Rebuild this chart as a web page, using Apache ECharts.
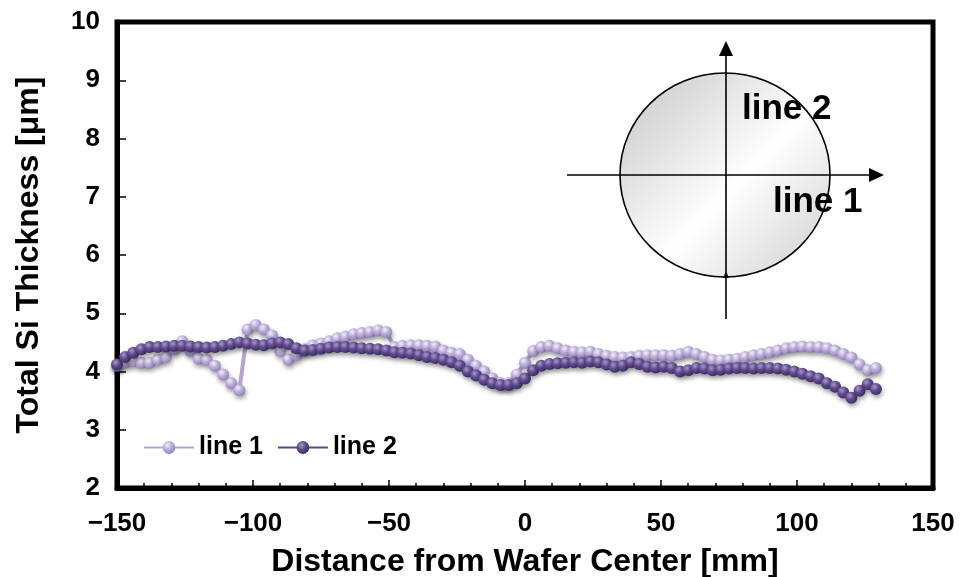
<!DOCTYPE html>
<html>
<head>
<meta charset="utf-8">
<script src="https://cdn.jsdelivr.net/npm/echarts@6/dist/echarts.min.js"></script>
<style>
  html, body { margin: 0; padding: 0; background: #fff; }
  #chart { width: 961px; height: 577px; }
</style>
</head>
<body>
<div id="chart"></div>
<script>
// Measurement positions along the wafer diameter [mm]
const distance = [
  -150, -147, -144, -141, -138, -135, -132, -129, -126, -123,
  -120, -117, -114, -111, -108, -105, -102, -99, -96, -93,
  -90, -87, -84, -81, -78, -75, -72, -69, -66, -63,
  -60, -57, -54, -51, -48, -45, -42, -39, -36, -33,
  -30, -27, -24, -21, -18, -15, -12, -9, -6, -3,
  0, 3, 6, 9, 12, 15, 18, 21, 24, 27,
  30, 33, 36, 39, 42, 45, 48, 51, 54, 57,
  60, 63, 66, 69, 72, 75, 78, 81, 84, 87,
  90, 93, 96, 99, 102, 105, 108, 111, 114, 117,
  120, 123, 126, 129
];

// Total Si thickness [um] along line 1 (horizontal scan)
const line1 = [
  4.10, 4.15, 4.18, 4.15, 4.15, 4.20, 4.25, 4.38, 4.52, 4.35,
  4.22, 4.20, 4.10, 3.95, 3.80, 3.68, 4.72, 4.80, 4.72, 4.62,
  4.35, 4.20, 4.28, 4.38, 4.45, 4.48, 4.52, 4.57, 4.60, 4.64,
  4.66, 4.68, 4.71, 4.68, 4.42, 4.44, 4.45, 4.45, 4.44, 4.43,
  4.36, 4.32, 4.30, 4.20, 4.10, 4.00, 3.88, 3.80, 3.80, 3.95,
  4.15, 4.35, 4.42, 4.44, 4.40, 4.36, 4.34, 4.33, 4.34, 4.30,
  4.27, 4.25, 4.24, 4.25, 4.27, 4.28, 4.28, 4.28, 4.27, 4.30,
  4.34, 4.30, 4.25, 4.20, 4.19, 4.20, 4.22, 4.25, 4.28, 4.30,
  4.33, 4.36, 4.40, 4.42, 4.43, 4.42, 4.42, 4.40, 4.36, 4.30,
  4.24, 4.12, 4.02, 4.06
];

// Total Si thickness [um] along line 2 (vertical scan)
const line2 = [
  4.12, 4.25, 4.32, 4.38, 4.42, 4.42, 4.43, 4.44, 4.44, 4.43,
  4.42, 4.41, 4.42, 4.44, 4.47, 4.50, 4.48, 4.46, 4.45, 4.48,
  4.50, 4.47, 4.40, 4.36, 4.37, 4.39, 4.41, 4.42, 4.42, 4.41,
  4.40, 4.39, 4.38, 4.36, 4.33, 4.32, 4.31, 4.28, 4.25, 4.23,
  4.20, 4.16, 4.10, 4.00, 3.93, 3.86, 3.80, 3.77, 3.77, 3.80,
  3.88, 4.02, 4.10, 4.13, 4.14, 4.15, 4.16, 4.15, 4.17, 4.16,
  4.12, 4.08, 4.10, 4.16, 4.13, 4.08, 4.07, 4.08, 4.06, 4.00,
  4.02, 4.06, 4.05, 4.02, 4.03, 4.05, 4.06, 4.06, 4.05, 4.06,
  4.06, 4.05, 4.03, 4.00, 3.96, 3.92, 3.88, 3.80, 3.74, 3.64,
  3.55, 3.67, 3.78, 3.70
];

const xTicks = [-150, -100, -50, 0, 50, 100, 150];
const yTicks = [2, 3, 4, 5, 6, 7, 8, 9, 10];

const FONT = '"Liberation Sans", Arial, sans-serif';

function pairs(xs, ys) {
  return xs.map((x, i) => [x, ys[i]]);
}

// Shaded "bead" fill for the markers
function bead(hi, base, shade) {
  return new echarts.graphic.RadialGradient(0.38, 0.32, 0.75, [
    { offset: 0, color: hi },
    { offset: 0.45, color: base },
    { offset: 1, color: shade }
  ]);
}

const chart = echarts.init(document.getElementById('chart'), null, { renderer: 'canvas' });

const option = {
  backgroundColor: '#ffffff',
  animation: false,
  grid: {
    left: 117, right: 28, top: 22, bottom: 89,
    containLabel: false, outerBoundsMode: 'none',
    show: true, borderColor: '#000', borderWidth: 5, backgroundColor: 'transparent'
  },
  legend: {
    left: 138, top: 430,
    itemWidth: 50, itemHeight: 16, itemGap: 14,
    textStyle: { fontFamily: FONT, fontWeight: 'bold', fontSize: 25, color: '#000' },
    data: ['line 1', 'line 2']
  },
  xAxis: {
    type: 'value',
    min: -150, max: 150, interval: 50,
    axisLine: { show: true, onZero: false, lineStyle: { color: '#000', width: 5 } },
    axisTick: { show: true, inside: true, length: 8, lineStyle: { color: '#000', width: 1.5 } },
    minorTick: { show: true, splitNumber: 5, length: 5, lineStyle: { color: '#000', width: 1.5 } },
    splitLine: { show: false },
    axisLabel: {
      margin: 23, fontFamily: FONT, fontWeight: 'bold', fontSize: 26, color: '#000',
      formatter: v => (xTicks.includes(v) ? String(v).replace('-', '\u2212') : '')
    },
    name: 'Distance from Wafer Center [mm]',
    nameLocation: 'middle', nameGap: 58,
    nameTextStyle: { fontFamily: FONT, fontWeight: 'bold', fontSize: 32, color: '#000' }
  },
  yAxis: {
    type: 'value',
    min: 2, max: 10, interval: 1,
    axisLine: { show: true, onZero: false, lineStyle: { color: '#000', width: 5 } },
    axisTick: { show: true, inside: true, length: 9, lineStyle: { color: '#000', width: 1.5 } },
    splitLine: { show: false },
    axisLabel: {
      margin: 17, fontFamily: FONT, fontWeight: 'bold', fontSize: 26, color: '#000',
      formatter: v => (yTicks.includes(v) ? String(v) : '')
    },
    name: 'Total Si Thickness [\u03bcm]',
    nameLocation: 'middle', nameGap: 72,
    nameTextStyle: { fontFamily: FONT, fontWeight: 'bold', fontSize: 32, color: '#000' }
  },
  series: [
    {
      name: 'line 1',
      type: 'line',
      data: pairs(distance, line1),
      symbol: 'circle', symbolSize: 12,
      z: 2,
      lineStyle: { color: '#b4a5d2', width: 4 },
      itemStyle: {
        color: bead('#f4f0fa', '#bcaedb', '#8d7db3'),
        borderWidth: 0,
        shadowColor: 'rgba(0,0,0,0.35)', shadowBlur: 4, shadowOffsetX: 1, shadowOffsetY: 3
      }
    },
    {
      name: 'line 2',
      type: 'line',
      data: pairs(distance, line2),
      symbol: 'circle', symbolSize: 12,
      z: 3,
      lineStyle: { color: '#5c4a8a', width: 4 },
      itemStyle: {
        color: bead('#a898cc', '#604c8e', '#382a5e'),
        borderWidth: 0,
        shadowColor: 'rgba(0,0,0,0.35)', shadowBlur: 4, shadowOffsetX: 1, shadowOffsetY: 3
      }
    }
  ],
  graphic: [
    // wafer sketch with the two scan directions
    {
      type: 'ellipse', z: 10,
      shape: { cx: 725, cy: 175, rx: 105, ry: 102 },
      style: {
        fill: new echarts.graphic.LinearGradient(0, 0, 1, 1, [
          { offset: 0, color: '#c4c4c4' },
          { offset: 0.55, color: '#ffffff' },
          { offset: 1, color: '#cdcdcd' }
        ]),
        stroke: '#000', lineWidth: 1.6
      }
    },
    { type: 'line', z: 11, shape: { x1: 567, y1: 175, x2: 872, y2: 175 }, style: { stroke: '#000', lineWidth: 1.6 } },
    { type: 'polygon', z: 11, shape: { points: [[884, 175], [869, 168], [869, 182]] }, style: { fill: '#000' } },
    { type: 'line', z: 11, shape: { x1: 726, y1: 319, x2: 726, y2: 53 }, style: { stroke: '#000', lineWidth: 1.6 } },
    { type: 'polygon', z: 11, shape: { points: [[726, 41], [719, 56], [733, 56]] }, style: { fill: '#000' } },
    { type: 'polygon', z: 11, shape: { points: [[726, 271], [723, 278], [729, 278]] }, style: { fill: '#000' } },
    {
      type: 'text', z: 12, left: 742, top: 92,
      style: { text: 'line 2', fontFamily: FONT, fontWeight: 'bold', fontSize: 35, fill: '#000' }
    },
    {
      type: 'text', z: 12, left: 773, top: 185,
      style: { text: 'line 1', fontFamily: FONT, fontWeight: 'bold', fontSize: 35, fill: '#000' }
    }
  ]
};

chart.setOption(option);
</script>
</body>
</html>
